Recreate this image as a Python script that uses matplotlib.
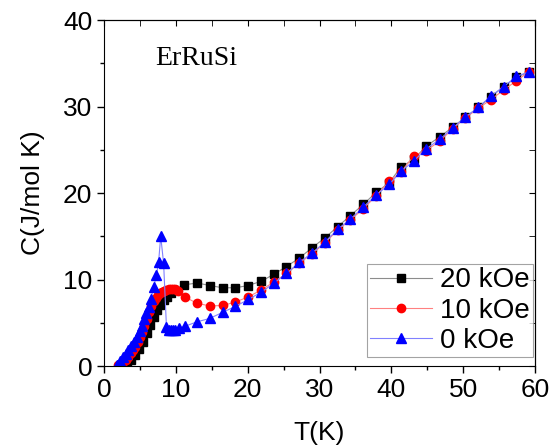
import numpy as np
import matplotlib
matplotlib.use("Agg")
matplotlib.rcParams["font.family"] = ["Liberation Sans", "DejaVu Sans"]
import matplotlib.pyplot as plt

# 20 kOe
t_20 = [3.2, 3.7, 4.3, 4.9, 5.4, 5.95, 6.4, 6.9, 7.35, 7.8, 8.3, 8.75, 9.3, 9.8,
        11.2, 13.0, 14.8, 16.5, 18.3, 20.0,
        21.9, 23.6, 25.4, 27.2, 29.0, 30.7, 32.5, 34.3, 36.1, 37.9, 39.7, 41.3,
        43.1, 44.8, 46.7, 48.5, 50.3, 52.1, 53.8, 55.6, 57.4, 59.1]
c_20 = [0.3, 0.7, 1.3, 2.0, 2.8, 3.8, 4.7, 5.7, 6.5, 7.05, 7.6, 8.0, 8.4, 8.8,
        9.4, 9.6, 9.3, 9.05, 9.05, 9.3,
        9.8, 10.6, 11.5, 12.5, 13.7, 14.8, 16.1, 17.4, 18.7, 20.1, 21.2, 23.0,
        23.9, 25.4, 26.5, 27.6, 28.8, 29.9, 31.1, 32.3, 33.4, 34.0]

# 10 kOe
t_10 = [2.0, 2.3, 2.6, 3.0, 3.3, 3.7, 4.0, 4.3, 4.7, 5.0, 5.3, 5.6, 6.0, 6.3,
        6.6, 6.9, 7.2, 7.5, 7.8, 8.1, 8.4, 8.7, 9.0, 9.3, 9.6, 9.9, 10.3,
        11.3, 12.9, 14.8, 16.5, 18.3, 20.1,
        21.9, 23.6, 25.4, 27.2, 29.0, 30.7, 32.5, 34.3, 36.1, 37.9, 39.7, 41.3,
        43.1, 44.8, 46.7, 48.5, 50.3, 52.1, 53.8, 55.6, 57.4, 59.1]
c_10 = [0.1, 0.25, 0.45, 0.75, 1.0, 1.45, 1.8, 2.2, 2.8, 3.3, 3.9, 4.6, 5.4, 6.2,
        6.9, 7.5, 7.9, 8.2, 8.4, 8.6, 8.7, 8.8, 8.85, 8.9, 8.9, 8.85, 8.7,
        8.0, 7.25, 6.95, 7.0, 7.4, 8.0,
        8.8, 9.7, 10.7, 11.9, 13.0, 14.2, 15.7, 16.9, 18.2, 19.7, 21.4, 22.4,
        24.3, 24.9, 26.0, 27.4, 28.7, 29.8, 30.8, 31.9, 33.0, 34.0]

# 0 kOe
t_0 = [1.8, 2.2, 2.6, 3.0, 3.4, 3.8, 4.2, 4.6, 5.0, 5.3, 5.6, 5.9, 6.2, 6.5,
       6.9, 7.3, 7.6, 7.9, 8.3, 8.7, 9.0, 9.3, 9.6, 9.9, 10.4,
       11.3, 12.9, 14.7, 16.5, 18.3, 20.1,
       21.9, 23.6, 25.4, 27.2, 29.0, 30.7, 32.5, 34.3, 36.1, 37.9, 39.7, 41.3,
       43.1, 44.8, 46.7, 48.5, 50.3, 52.1, 53.8, 55.6, 57.4, 59.1]
c_0 = [0.15, 0.6, 1.0, 1.4, 1.8, 2.3, 2.8, 3.4, 4.0, 4.6, 5.4, 6.1, 6.8, 7.7,
       9.1, 10.5, 12.0, 15.0, 11.9, 4.5, 4.2, 4.2, 4.2, 4.2, 4.35,
       4.6, 5.1, 5.5, 6.2, 6.9, 7.7,
       8.55, 9.55, 10.7, 12.0, 13.1, 14.3, 15.8, 17.0, 18.4, 19.8, 21.0, 22.5,
       23.7, 25.1, 26.2, 27.5, 28.8, 29.9, 31.2, 32.3, 33.5, 34.0]

fig = plt.figure(figsize=(5.5, 4.48), dpi=100)
ax = fig.add_axes([0.189, 0.183, 0.784, 0.772])

ax.plot(t_20, c_20, "-", color="0.55", lw=0.8, marker="s", ms=5.2,
        mfc="black", mec="black", label="20 kOe")
ax.plot(t_10, c_10, "-", color="#ff8080", lw=0.8, marker="o", ms=6,
        mfc="red", mec="red", label="10 kOe")
ax.plot(t_0, c_0, "-", color="#8080ff", lw=0.8, marker="^", ms=6.5,
        mfc="blue", mec="blue", label="0 kOe")

ax.set_xlim(0, 60)
ax.set_ylim(0, 40)
ax.set_xticks(np.arange(0, 61, 10))
ax.set_yticks(np.arange(0, 41, 10))
ax.set_xticks(np.arange(5, 60, 10), minor=True)
ax.set_yticks(np.arange(5, 40, 10), minor=True)
ax.tick_params(which="both", direction="out", labelsize=19, width=1)
ax.tick_params(which="major", length=5)
ax.tick_params(which="minor", length=3)

# ticks pointing in on top and right
sx = ax.secondary_xaxis("top")
sx.set_xticks(np.arange(0, 61, 10))
sx.set_xticks(np.arange(5, 60, 10), minor=True)
sx.tick_params(which="both", direction="in", length=4, labeltop=False)
sy = ax.secondary_yaxis("right")
sy.set_yticks(np.arange(0, 41, 10))
sy.set_yticks(np.arange(5, 40, 10), minor=True)
sy.tick_params(which="both", direction="in", length=4, labelright=False)

ax.set_xlabel("T(K)", fontsize=19, labelpad=14)
ax.set_ylabel("C(J/mol K)", fontsize=19, labelpad=13)

ax.text(7.1, 35.6, "ErRuSi", fontsize=20, family="Liberation Serif",
        va="center", ha="left")

leg = ax.legend(loc="lower right", bbox_to_anchor=(0.995, 0.026),
                borderaxespad=0, fontsize=20, numpoints=1, fancybox=False,
                edgecolor="0.55", handlelength=2.2, labelspacing=0.15,
                borderpad=0.12, handletextpad=0.3)
leg.get_frame().set_linewidth(0.8)

fig.savefig("out.png", dpi=100)
